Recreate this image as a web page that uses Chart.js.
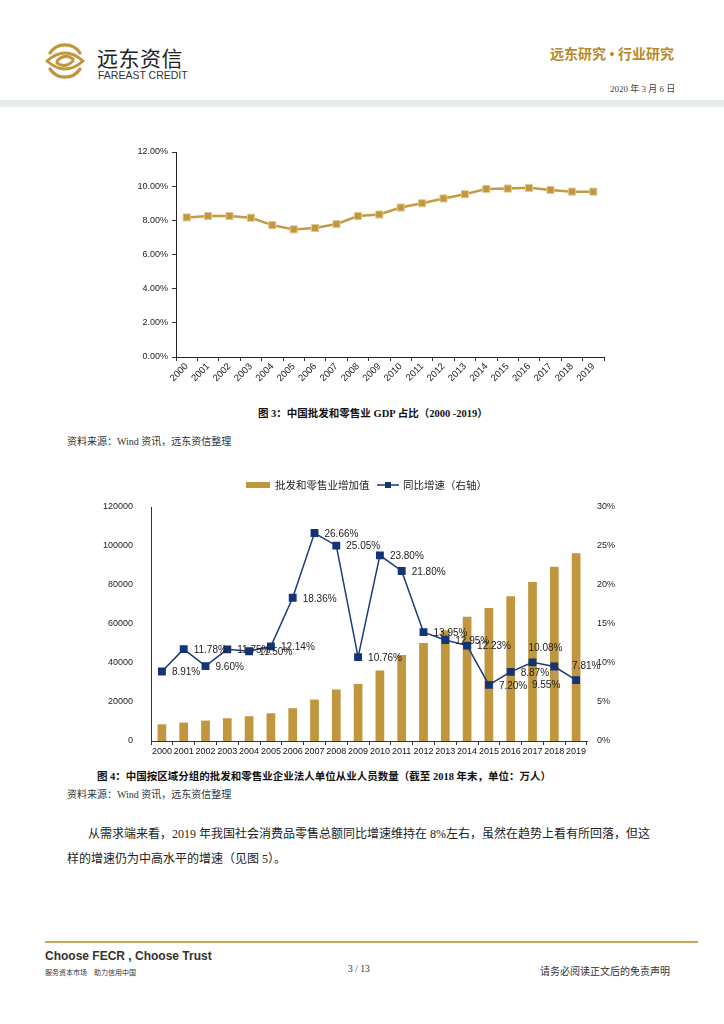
<!DOCTYPE html>
<html>
<head>
<meta charset="utf-8">
<script src="https://cdn.jsdelivr.net/npm/chart.js@4.4.1/dist/chart.umd.min.js"></script>
<style>
  body { margin: 0; background: #fff; }
  #page { position: relative; width: 724px; height: 1024px; overflow: hidden; font-family: "Liberation Serif", "Noto Sans CJK SC", serif; color: #222; }
  .abs { position: absolute; white-space: nowrap; }
  .cap { font-weight: bold; font-size: 10.5px; color: #111; }
  .src { font-size: 10px; color: #333; }
</style>
</head>
<body>
<div id="page">
  <!-- header -->
  <svg class="abs" style="left:44px;top:41px" width="42" height="40" viewBox="0 0 42 40">
    <g fill="none" stroke="#C0963E" stroke-linecap="round">
      <path d="M6 12 A18 18 0 0 1 36 12" stroke-width="3.2"/>
      <path d="M36 28 A18 18 0 0 1 6 28" stroke-width="3.2"/>
      <path d="M3 20 Q21 4 39 20 Q21 36 3 20" stroke-width="3"/>
      <path d="M13 20 Q21 12 29 18" stroke-width="3"/>
      <path d="M29 20 Q21 28 13 22" stroke-width="3"/>
    </g>
  </svg>
  <div class="abs" style="left:97px;top:42px;font-family:'Noto Sans CJK SC';font-size:21px;color:#222;letter-spacing:0.5px">远东资信</div>
  <div class="abs" style="left:98px;top:69px;font-family:'Liberation Sans';font-size:10.5px;color:#333">FAREAST CREDIT</div>
  <div class="abs" style="left:550px;top:43px;font-size:14px;font-weight:bold;color:#B88A2E">远东研究 • 行业研究</div>
  <div class="abs" style="left:610px;top:82px;font-size:9px;color:#444">2020 年 3 月 6 日</div>
  <div class="abs" style="left:0;top:100px;width:724px;height:7px;background:#E8EBEB"></div>

  <!-- chart 1 -->
  <div class="abs" style="left:130px;top:140px;width:480px;height:245px"><canvas id="c1"></canvas></div>
  <div class="abs cap" style="left:258px;top:405px">图 3：中国批发和零售业 GDP 占比（2000 -2019）</div>
  <div class="abs src" style="left:67px;top:433px">资料来源：Wind 资讯，远东资信整理</div>

  <!-- chart 2 -->
  <div class="abs" style="left:100px;top:470px;width:530px;height:290px"><canvas id="c2"></canvas></div>
  <div class="abs cap" style="left:97px;top:768px">图 4：中国按区域分组的批发和零售业企业法人单位从业人员数量（截至 2018 年末，单位：万人）</div>
  <div class="abs src" style="left:67px;top:786px">资料来源：Wind 资讯，远东资信整理</div>

  <div class="abs" style="left:88px;top:824px;font-size:12px;color:#222">从需求端来看，2019 年我国社会消费品零售总额同比增速维持在 8%左右，虽然在趋势上看有所回落，但这</div>
  <div class="abs" style="left:67px;top:849px;font-size:12px;color:#222">样的增速仍为中高水平的增速（见图 5）。</div>

  <!-- footer -->
  <div class="abs" style="left:45px;top:941px;width:653px;height:2px;background:#C9A65A"></div>
  <div class="abs" style="left:45px;top:949px;font-family:'Liberation Sans';font-weight:bold;font-size:12px;color:#333">Choose FECR , Choose Trust</div>
  <div class="abs" style="left:45px;top:967px;font-size:7px;color:#333">服务资本市场　助力信用中国</div>
  <div class="abs" style="left:348px;top:964px;font-size:9.5px;color:#333">3 / 13</div>
  <div class="abs" style="left:540px;top:963px;font-size:10px;color:#333">请务必阅读正文后的免责声明</div>
</div>

<script>
const years = ['2000','2001','2002','2003','2004','2005','2006','2007','2008','2009',
               '2010','2011','2012','2013','2014','2015','2016','2017','2018','2019'];
// 图3：批发和零售业 GDP 占比 (%)
const gdpShare = [8.17, 8.25, 8.25, 8.15, 7.72, 7.47, 7.55, 7.78, 8.25, 8.34,
                  8.75, 9.00, 9.28, 9.53, 9.84, 9.86, 9.90, 9.78, 9.68, 9.68];
// 图4：批发和零售业增加值 与 同比增速 (%)
const addedValue = [8570, 9430, 10460, 11660, 12690, 14230, 16800, 21260, 26400, 29310,
                    36170, 44060, 50230, 56740, 63770, 68230, 74230, 81600, 89310, 96340];
const yoyGrowth = [8.91, 11.78, 9.60, 11.75, 11.50, 12.14, 18.36, 26.66, 25.05, 10.76,
                   23.80, 21.80, 13.95, 12.95, 12.23, 7.20, 8.87, 10.08, 9.55, 7.81];
const leftTicks = [0, 20000, 40000, 60000, 80000, 100000, 120000];
const rightTicks = [0, 5, 10, 15, 20, 25, 30];

const GOLD = '#C0963E';
const NAVY = '#1B3B7D';
const tickFont = { family: 'Liberation Sans', size: 9 };

new Chart(document.getElementById('c1'), {
    type: 'line',
    data: {
        labels: years,
        datasets: [{
            data: gdpShare,
            borderColor: '#C49A42',
            borderWidth: 2.5,
            pointStyle: 'rect',
            pointRadius: 5,
            pointBackgroundColor: GOLD,
            pointBorderColor: '#E3C88E',
            pointBorderWidth: 1,
            tension: 0
        }]
    },
    options: {
        responsive: true,
        maintainAspectRatio: false,
        animation: false,
        layout: { padding: { top: 12, right: 6 } },
        plugins: { legend: { display: false }, tooltip: { enabled: false } },
        scales: {
            x: {
                offset: true,
                grid: { offset: true, drawOnChartArea: false, tickLength: 4, color: '#333' },
                border: { color: '#222', width: 1 },
                ticks: { font: { family: 'Liberation Sans', size: 9.5 }, color: '#222', maxRotation: 45, minRotation: 45, padding: 0, autoSkip: false },
                afterFit: s => { s.height = 28; }
            },
            y: {
                min: 0, max: 12,
                grid: { drawOnChartArea: false, tickLength: 4, color: '#333' },
                border: { color: '#222', width: 1 },
                ticks: { stepSize: 2, font: tickFont, color: '#222', padding: 4,
                         callback: v => v.toFixed(2) + '%' },
                afterFit: s => { s.width = 46; }
            }
        }
    }
});

// label placement for the growth series (default: right of point)
const labelPlace = { 17: 'above', 18: 'below', 19: 'above' };

const growthLabels = {
    id: 'growthLabels',
    afterDatasetsDraw(chart) {
        const ctx = chart.ctx;
        const meta = chart.getDatasetMeta(1);
        ctx.save();
        ctx.font = '10px "Liberation Sans"';
        ctx.fillStyle = '#222';
        ctx.textBaseline = 'middle';
        meta.data.forEach((pt, i) => {
            const txt = yoyGrowth[i].toFixed(2) + '%';
            const place = labelPlace[i];
            if (place === 'above') {
                ctx.textAlign = 'left';
                ctx.fillText(txt, pt.x - 4, pt.y - 14);
            } else if (place === 'below') {
                ctx.strokeStyle = '#aaa';
                ctx.lineWidth = 1;
                ctx.beginPath();
                ctx.moveTo(pt.x, pt.y + 4);
                ctx.lineTo(pt.x + 2, pt.y + 15);
                ctx.stroke();
                ctx.textAlign = 'right';
                ctx.fillText(txt, pt.x + 6, pt.y + 19);
            } else {
                ctx.textAlign = 'left';
                ctx.fillText(txt, pt.x + 10, pt.y + 1);
            }
        });
        ctx.restore();
    }
};

const customLegend = {
    id: 'customLegend',
    afterDraw(chart) {
        const ctx = chart.ctx;
        const ds = chart.data.datasets;
        ctx.save();
        ctx.font = '10.5px "Noto Sans CJK SC"';
        ctx.textBaseline = 'middle';
        const y = 15;
        // bar item
        let x = 146;
        ctx.fillStyle = ds[0].backgroundColor;
        ctx.fillRect(x, y - 3, 24, 6);
        ctx.fillStyle = '#222';
        ctx.fillText(ds[0].label, x + 29, y);
        // line item
        x = 277;
        ctx.strokeStyle = ds[1].borderColor;
        ctx.lineWidth = 1.5;
        ctx.beginPath();
        ctx.moveTo(x, y); ctx.lineTo(x + 22, y);
        ctx.stroke();
        ctx.fillStyle = ds[1].pointBackgroundColor;
        ctx.fillRect(x + 8, y - 3, 6, 6);
        ctx.fillStyle = '#222';
        ctx.fillText(ds[1].label, x + 26, y);
        ctx.restore();
    }
};

new Chart(document.getElementById('c2'), {
    data: {
        labels: years,
        datasets: [{
            type: 'bar',
            label: '批发和零售业增加值',
            data: addedValue,
            backgroundColor: GOLD,
            barPercentage: 0.4,
            categoryPercentage: 1,
            yAxisID: 'y',
            order: 2
        }, {
            type: 'line',
            label: '同比增速（右轴）',
            data: yoyGrowth,
            borderColor: NAVY,
            borderWidth: 1.5,
            pointStyle: 'rect',
            pointRadius: 4.5,
            pointBackgroundColor: '#143478',
            pointBorderColor: '#143478',
            tension: 0,
            yAxisID: 'y1',
            order: 1
        }]
    },
    options: {
        responsive: true,
        maintainAspectRatio: false,
        animation: false,
        layout: { padding: { top: 37 } },
        plugins: { legend: { display: false }, tooltip: { enabled: false } },
        scales: {
            x: {
                offset: true,
                grid: { offset: true, drawOnChartArea: false, tickLength: 4, color: '#333' },
                border: { color: '#333', width: 1 },
                ticks: { font: tickFont, color: '#111', maxRotation: 0, padding: 1, autoSkip: false },
                afterFit: s => { s.height = 19; }
            },
            y: {
                position: 'left',
                min: 0, max: 120000,
                afterBuildTicks: s => { s.ticks = leftTicks.map(v => ({ value: v })); },
                grid: { display: false },
                border: { color: '#333', width: 1 },
                ticks: { font: tickFont, color: '#222', padding: 10, callback: v => String(v) },
                afterFit: s => { s.width = 51; }
            },
            y1: {
                position: 'right',
                min: 0, max: 30,
                afterBuildTicks: s => { s.ticks = rightTicks.map(v => ({ value: v })); },
                grid: { display: false },
                border: { display: false },
                ticks: { font: tickFont, color: '#222', padding: 2, callback: v => v + '%' },
                afterFit: s => { s.width = 43; }
            }
        }
    },
    plugins: [growthLabels, customLegend]
});
</script>
</body>
</html>
